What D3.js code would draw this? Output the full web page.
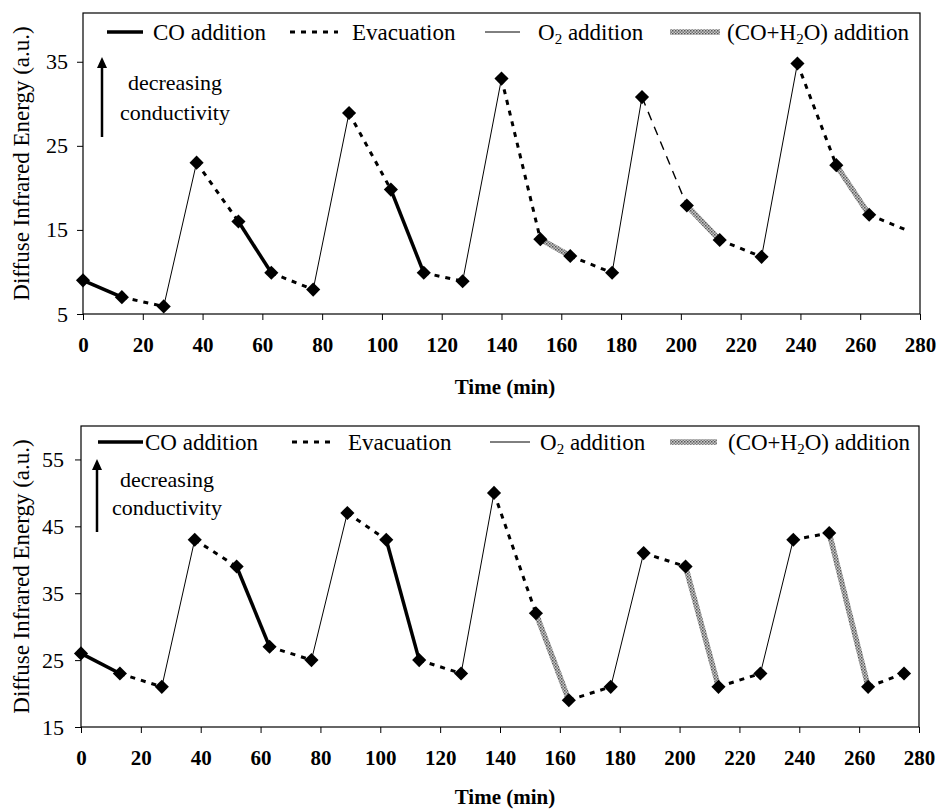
<!DOCTYPE html>
<html>
<head>
<meta charset="utf-8">
<script src="https://cdn.jsdelivr.net/npm/d3@7"></script>
<style>
  body { margin: 0; background: #fff; }
  svg text { font-family: "Liberation Serif", "Times New Roman", serif; fill: #000; }
</style>
</head>
<body>
<svg id="chart" width="938" height="809"></svg>
<script>
// top panel
var timesA = [0, 13, 27, 38, 52, 63, 77, 89, 103, 114, 127, 140, 153, 163, 177, 187, 202, 213, 227, 239, 252, 263, 276];
var energyA = [9, 7, 5.9, 23, 16, 9.9, 7.9, 28.9, 19.8, 9.9, 8.9, 33, 13.9, 11.9, 9.9, 30.8, 17.9, 13.8, 11.8, 34.8, 22.7, 16.8, 14.9];
var stepsA = ["CO", "Evac", "O2", "Evac", "CO", "Evac", "O2", "Evac", "CO", "Evac", "O2", "Evac",
              "H2O", "Evac", "O2", "EvacThin", "H2O", "Evac", "O2", "Evac", "H2O", "Evac"];
var unmarkedA = [22];

// bottom panel
var timesB = [0, 13, 27, 38, 52, 63, 77, 89, 102, 113, 127, 138, 152, 163, 177, 188, 202, 213, 227, 238, 250, 263, 275];
var energyB = [26, 23, 21, 43, 39, 27, 25, 47, 43, 25, 23, 50, 32, 19, 21, 41, 39, 21, 23, 43, 44, 21, 23];
var stepsB = ["CO", "Evac", "O2", "Evac", "CO", "Evac", "O2", "Evac", "CO", "Evac", "O2", "Evac",
              "H2O", "Evac", "O2", "Evac", "H2O", "Evac", "O2", "Evac", "H2O", "Evac"];
var unmarkedB = [];

var xTicks = [0, 20, 40, 60, 80, 100, 120, 140, 160, 180, 200, 220, 240, 260, 280];
var yTicksA = [5, 15, 25, 35];
var yTicksB = [15, 25, 35, 45, 55];

var svg = d3.select("#chart");

// grey speckled stroke for the (CO+H2O) segments
var pat = svg.append("defs").append("pattern")
    .attr("id", "hatch")
    .attr("patternUnits", "userSpaceOnUse")
    .attr("width", 3).attr("height", 3);
pat.append("rect").attr("width", 3).attr("height", 3).attr("fill", "#c8c8c8");
pat.append("rect").attr("width", 1.5).attr("height", 1.5).attr("fill", "#555");
pat.append("rect").attr("x", 1.5).attr("y", 1.5).attr("width", 1.5).attr("height", 1.5).attr("fill", "#777");

var styles = {
  CO:       { width: 3.5, dash: null,  color: "#000" },
  Evac:     { width: 3,   dash: "5,6", color: "#000" },
  EvacThin: { width: 1.4, dash: "9,7", color: "#000" },
  O2:       { width: 1,   dash: null,  color: "#000" },
  H2O:      { width: 5.5, dash: null,  color: "url(#hatch)" }
};

function styleLine(sel, kind) {
  var s = styles[kind];
  sel.attr("stroke", s.color)
     .attr("stroke-width", s.width)
     .attr("fill", "none")
     .attr("stroke-dasharray", s.dash);
}

function drawPanel(p) {
  var g = svg.append("g");
  var x = d3.scaleLinear().domain([0, 280]).range([p.left, p.right]);
  var y = d3.scaleLinear().domain(p.yDomain).range([p.bottom, p.top]);

  g.append("rect")
    .attr("x", p.left).attr("y", p.top)
    .attr("width", p.right - p.left).attr("height", p.bottom - p.top)
    .attr("fill", "none").attr("stroke", "#000").attr("stroke-width", 1.2);

  var xa = g.append("g")
    .attr("transform", "translate(0," + p.bottom + ")")
    .call(d3.axisBottom(x).tickValues(xTicks).tickSize(6).tickPadding(17));
  xa.select(".domain").remove();
  xa.selectAll("text").style("font-size", "21px").style("font-weight", "bold")
    .style("font-family", "Liberation Serif");

  var ya = g.append("g")
    .attr("transform", "translate(" + p.left + ",0)")
    .call(d3.axisLeft(y).tickValues(p.yTicks).tickSize(6).tickPadding(p.yPad));
  ya.select(".domain").remove();
  ya.selectAll("text").style("font-size", "22px").style("font-family", "Liberation Serif");

  g.append("text")
    .attr("x", 505).attr("y", p.bottom + p.titleGap)
    .attr("text-anchor", "middle")
    .style("font-size", "21px").style("font-weight", "bold")
    .text("Time (min)");

  var yMid = (p.top + p.bottom) / 2;
  g.append("text")
    .attr("transform", "translate(29," + yMid + ") rotate(-90)")
    .attr("text-anchor", "middle")
    .style("font-size", "23px")
    .text("Diffuse Infrared Energy (a.u.)");

  // segments
  var segs = p.steps.map(function (k, i) {
    return { kind: k, x1: p.times[i], y1: p.energy[i], x2: p.times[i + 1], y2: p.energy[i + 1] };
  });
  g.selectAll("line.seg").data(segs).enter().append("line")
    .attr("class", "seg")
    .attr("x1", function (d) { return x(d.x1); })
    .attr("y1", function (d) { return y(d.y1); })
    .attr("x2", function (d) { return x(d.x2); })
    .attr("y2", function (d) { return y(d.y2); })
    .each(function (d) { styleLine(d3.select(this), d.kind); });

  var pts = p.times.map(function (t, i) { return { t: t, v: p.energy[i], i: i }; })
    .filter(function (d) { return p.unmarked.indexOf(d.i) < 0; });
  g.selectAll("path.pt").data(pts).enter().append("path")
    .attr("class", "pt")
    .attr("d", d3.symbol(d3.symbolSquare, 100))
    .attr("transform", function (d) { return "translate(" + x(d.t) + "," + y(d.v) + ") rotate(45)"; })
    .attr("fill", "#000");

  // legend
  var L = p.legend;
  var ly = L.y;
  styleLine(g.append("line").attr("x1", L.co[0]).attr("x2", L.co[1]).attr("y1", ly).attr("y2", ly), "CO");
  styleLine(g.append("line").attr("x1", L.ev[0]).attr("x2", L.ev[1]).attr("y1", ly).attr("y2", ly), "Evac");
  styleLine(g.append("line").attr("x1", L.o2[0]).attr("x2", L.o2[1]).attr("y1", ly).attr("y2", ly), "O2");
  styleLine(g.append("line").attr("x1", L.h2o[0]).attr("x2", L.h2o[1]).attr("y1", ly).attr("y2", ly), "H2O");

  var fs = "23px";
  g.append("text").attr("x", L.co[2]).attr("y", ly + 8).style("font-size", fs).text("CO addition");
  g.append("text").attr("x", L.ev[2]).attr("y", ly + 8).style("font-size", fs).text("Evacuation");
  var t1 = g.append("text").attr("x", L.o2[2]).attr("y", ly + 8).style("font-size", fs);
  t1.append("tspan").text("O");
  t1.append("tspan").attr("dy", 4).style("font-size", "15px").text("2");
  t1.append("tspan").attr("dy", -4).text(" addition");
  var t2 = g.append("text").attr("x", L.h2o[2]).attr("y", ly + 8).style("font-size", fs);
  t2.append("tspan").text("(CO+H");
  t2.append("tspan").attr("dy", 4).style("font-size", "15px").text("2");
  t2.append("tspan").attr("dy", -4).text("O) addition");

  // arrow note
  var A = p.arrow;
  g.append("line").attr("x1", A.x).attr("x2", A.x).attr("y1", A.y2).attr("y2", A.y1 + 8)
    .attr("stroke", "#000").attr("stroke-width", 2.5);
  g.append("path")
    .attr("d", "M" + (A.x - 5) + "," + (A.y1 + 11) + "L" + A.x + "," + A.y1 + "L" + (A.x + 5) + "," + (A.y1 + 11) + "Z")
    .attr("fill", "#000");
  g.append("text").attr("x", A.tx).attr("y", A.ty1).attr("text-anchor", "middle")
    .style("font-size", "22px").text("decreasing");
  g.append("text").attr("x", A.tx).attr("y", A.ty2).attr("text-anchor", "middle")
    .style("font-size", "22px").text("conductivity");
}

drawPanel({
  times: timesA, energy: energyA, steps: stepsA, unmarked: unmarkedA,
  left: 83, right: 920, top: 13, bottom: 314,
  yDomain: [5, 40.8], yTicks: yTicksA, yPad: 9, titleGap: 80,
  legend: { y: 32, co: [107, 143, 153], ev: [290, 338, 352], o2: [485, 520, 538], h2o: [670, 720, 727] },
  arrow: { x: 102, y1: 57, y2: 137, tx: 175, ty1: 90, ty2: 120 }
});

drawPanel({
  times: timesB, energy: energyB, steps: stepsB, unmarked: unmarkedB,
  left: 81, right: 919, top: 426, bottom: 727,
  yDomain: [15, 60], yTicks: yTicksB, yPad: 11, titleGap: 77,
  legend: { y: 442, co: [98, 143, 145], ev: [292, 336, 348], o2: [490, 530, 540], h2o: [670, 717, 728] },
  arrow: { x: 97, y1: 459, y2: 532, tx: 167, ty1: 487, ty2: 515 }
});
</script>
</body>
</html>
